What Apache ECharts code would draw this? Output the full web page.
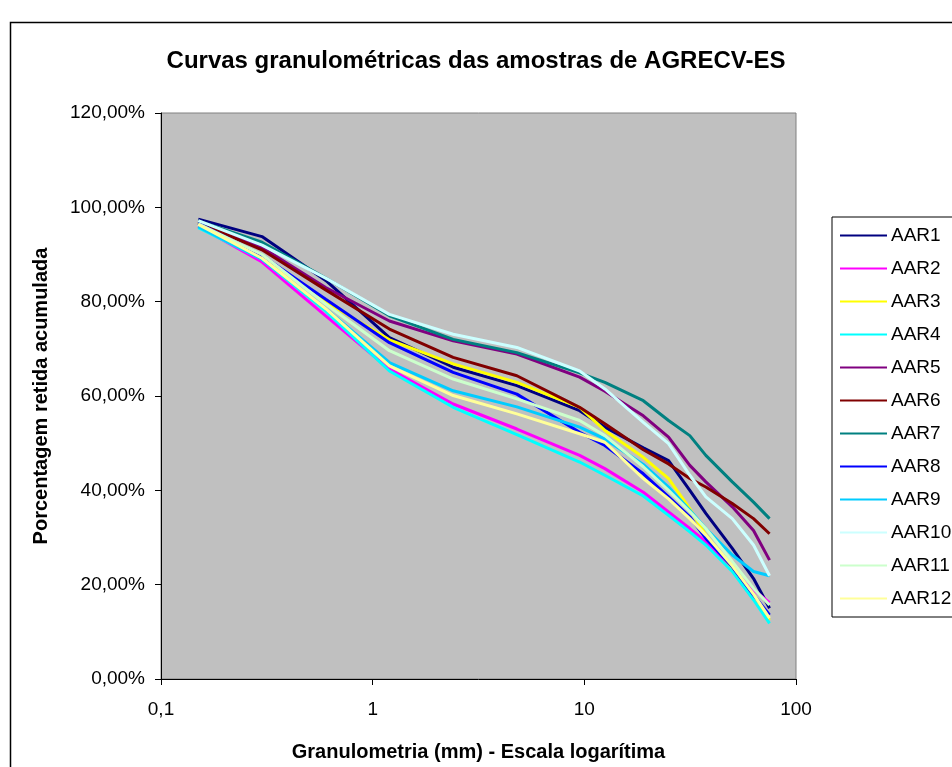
<!DOCTYPE html>
<html>
<head>
<meta charset="utf-8">
<title>Curvas granulométricas</title>
<script src="https://cdn.jsdelivr.net/npm/echarts@6/dist/echarts.min.js"></script>
<style>
  html, body { margin: 0; padding: 0; background: #fff; }
  #chart { width: 952px; height: 767px; }
</style>
</head>
<body>
<div id="chart"></div>
<script>
// peneiras (mm)
const sieves = [0.15, 0.3, 0.6, 1.2, 2.4, 4.8, 9.5, 12.5, 19, 25, 31.5, 37.5, 50, 63, 75];

// porcentagem retida acumulada (%)
const aar1  = [97.5, 93.8, 84.5, 72.4, 66.1, 62.2, 56.9, 53.4, 49.0, 46.3, 40.0, 35.1, 27.7, 21.3, 15.0];
const aar2  = [96.0, 88.4, 77.0, 65.7, 58.3, 53.0, 47.4, 44.6, 39.6, 35.4, 31.9, 29.1, 23.1, 18.9, 16.2];
const aar3  = [96.8, 89.5, 80.0, 71.9, 66.8, 62.9, 57.6, 52.7, 47.0, 42.5, 36.1, 30.5, 23.5, 17.1, 12.5];
const aar4  = [95.7, 89.0, 78.0, 65.3, 57.6, 51.8, 46.0, 43.2, 38.8, 34.7, 31.2, 28.4, 22.8, 16.8, 11.8];
const aar5  = [97.0, 91.5, 83.0, 75.9, 71.7, 68.9, 64.0, 61.0, 55.8, 51.3, 45.3, 41.8, 36.5, 31.5, 25.2];
const aar6  = [96.8, 91.0, 82.5, 74.2, 68.2, 64.3, 57.6, 54.1, 48.6, 45.6, 42.5, 40.7, 37.2, 34.0, 30.8];
const aar7  = [97.1, 92.6, 85.0, 77.0, 72.0, 69.2, 64.9, 62.9, 59.0, 54.8, 51.6, 47.4, 41.8, 37.5, 34.0];
const aar8  = [96.6, 89.8, 80.5, 71.3, 65.0, 60.4, 52.3, 49.5, 43.5, 38.6, 34.4, 29.8, 23.8, 17.8, 13.6];
const aar9  = [95.9, 89.0, 78.5, 67.1, 61.1, 57.7, 53.4, 50.9, 45.5, 40.7, 35.8, 31.9, 26.3, 22.8, 21.9];
const aar10 = [97.2, 92.0, 85.0, 77.3, 73.1, 70.3, 65.3, 61.5, 54.4, 49.9, 43.2, 38.6, 34.0, 28.4, 21.9];
const aar11 = [96.5, 90.0, 79.5, 69.6, 63.6, 59.4, 54.8, 51.6, 45.0, 40.0, 35.5, 31.9, 24.9, 19.2, 15.7];
const aar12 = [96.4, 89.2, 78.5, 66.4, 60.1, 56.2, 52.0, 50.2, 42.5, 38.2, 34.0, 30.5, 24.0, 18.0, 12.9];

const names  = ['AAR1', 'AAR2', 'AAR3', 'AAR4', 'AAR5', 'AAR6', 'AAR7', 'AAR8', 'AAR9', 'AAR10', 'AAR11', 'AAR12'];
const values = [aar1, aar2, aar3, aar4, aar5, aar6, aar7, aar8, aar9, aar10, aar11, aar12];
const colors = ['#000080', '#FF00FF', '#FFFF00', '#00FFFF', '#800080', '#800000',
                '#008080', '#0000FF', '#00CCFF', '#CCFFFF', '#CCFFCC', '#FFFF99'];

const font = "'Liberation Sans', Arial, sans-serif";
const chart = echarts.init(document.getElementById('chart'));

const option = {
  animation: false,
  textStyle: { fontFamily: font },
  graphic: [{
    type: 'rect',
    left: 8, top: 20,
    shape: { width: 1000, height: 800 },
    style: { fill: 'none', stroke: '#000', lineWidth: 1.5 },
    z: -1
  }],
  title: {
    text: 'Curvas granulométricas das amostras de AGRECV-ES',
    left: 'center',
    top: 44,
    textStyle: { fontFamily: font, fontSize: 24, fontWeight: 'bold', color: '#000' }
  },
  grid: {
    left: 161, right: 156, top: 113, bottom: 86,
    show: true,
    backgroundColor: '#C0C0C0',
    borderColor: '#808080',
    borderWidth: 1
  },
  legend: {
    orient: 'vertical',
    left: 832, top: 217,
    padding: [9, 8, 9, 7],
    itemWidth: 47, itemHeight: 16, itemGap: 14,
    backgroundColor: '#fff',
    borderColor: '#000', borderWidth: 1,
    itemStyle: { opacity: 0 },
    textStyle: { fontFamily: font, fontSize: 19, lineHeight: 16, color: '#000', padding: [0, 0, 0, -1] },
    data: names
  },
  xAxis: {
    type: 'log',
    logBase: 10,
    min: 0.1, max: 100,
    name: 'Granulometria (mm) - Escala logarítima',
    nameLocation: 'middle',
    nameGap: 63,
    nameTextStyle: { fontFamily: font, fontSize: 20, fontWeight: 'bold', color: '#000' },
    axisLine: { lineStyle: { color: '#000', width: 1 } },
    axisTick: { show: true, length: 6, lineStyle: { color: '#000' } },
    minorTick: { show: false },
    splitLine: { show: false },
    axisLabel: {
      fontFamily: font, fontSize: 19, color: '#000', margin: 21,
      formatter: v => String(+v.toPrecision(3)).replace('.', ',')
    }
  },
  yAxis: {
    type: 'value',
    min: 0, max: 120, interval: 20,
    name: 'Porcentagem retida acumulada',
    nameLocation: 'middle',
    nameGap: 110,
    nameTextStyle: { fontFamily: font, fontSize: 20, fontWeight: 'bold', color: '#000' },
    axisLine: { show: true, lineStyle: { color: '#000', width: 1 } },
    axisTick: { show: true, length: 6, lineStyle: { color: '#000' } },
    splitLine: { show: false },
    axisLabel: {
      fontFamily: font, fontSize: 19, color: '#000', margin: 16,
      formatter: v => v.toFixed(2).replace('.', ',') + '%'
    }
  },
  series: names.map((n, i) => ({
    name: n,
    type: 'line',
    symbol: 'none',
    color: colors[i],
    lineStyle: { width: 3, color: colors[i] },
    data: sieves.map((s, j) => [s, values[i][j]])
  }))
};

chart.setOption(option);
</script>
</body>
</html>
